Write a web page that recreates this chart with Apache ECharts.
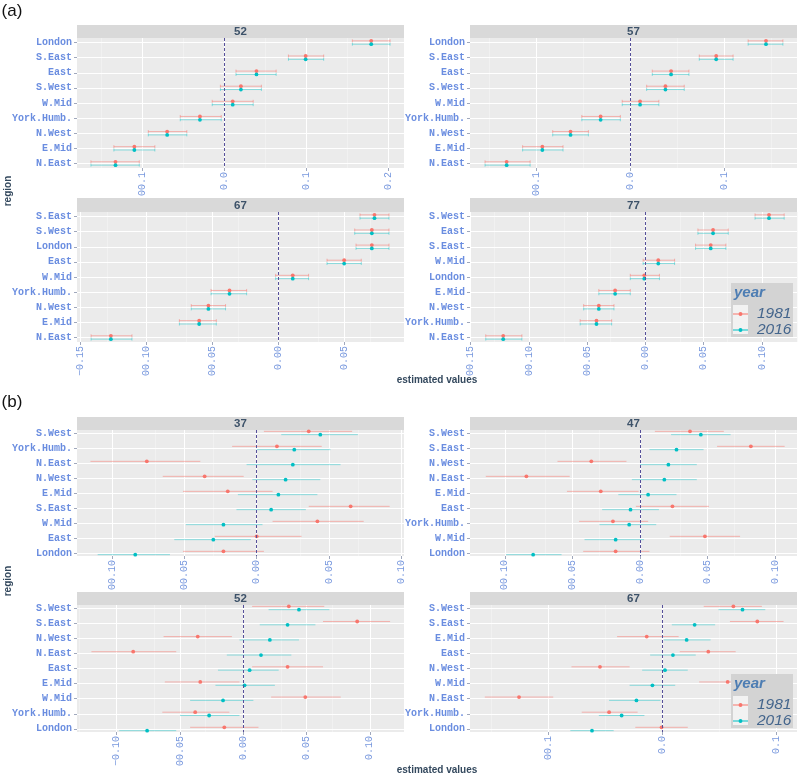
<!DOCTYPE html>
<html><head><meta charset="utf-8">
<script src="https://cdn.jsdelivr.net/npm/echarts@6/dist/echarts.min.js"></script>
<style>html,body{margin:0;padding:0;background:#fff}#c{width:800px;height:775px}</style>
</head><body><div id="c"></div>
<script>
// ---------------- DATA ----------------
const years = ['1981', '2016'];

// (a) facet 52
const a52_regions = ['London','S.East','East','S.West','W.Mid','York.Humb.','N.West','E.Mid','N.East'];
const a52_est_1981 = [0.179,0.099,0.039,0.020,0.010,-0.030,-0.070,-0.110,-0.133];
const a52_lo_1981  = [0.156,0.078,0.014,-0.005,-0.015,-0.054,-0.093,-0.135,-0.163];
const a52_hi_1981  = [0.202,0.121,0.063,0.045,0.035,-0.004,-0.046,-0.085,-0.104];
const a52_est_2016 = [0.179,0.099,0.039,0.020,0.010,-0.030,-0.070,-0.110,-0.133];
const a52_lo_2016  = [0.156,0.078,0.014,-0.005,-0.015,-0.054,-0.093,-0.135,-0.163];
const a52_hi_2016  = [0.202,0.121,0.063,0.045,0.035,-0.004,-0.046,-0.085,-0.104];
const a52_ticks = [-0.1, 0, 0.1, 0.2];
const a52_tickLabels = ['00.1','0.0','0.1','0.2'];

// (a) facet 57
const a57_regions = ['London','S.East','East','S.West','W.Mid','York.Humb.','N.West','E.Mid','N.East'];
const a57_est_1981 = [0.144,0.091,0.043,0.037,0.010,-0.032,-0.064,-0.094,-0.132];
const a57_lo_1981  = [0.125,0.073,0.023,0.017,-0.009,-0.052,-0.083,-0.115,-0.155];
const a57_hi_1981  = [0.162,0.109,0.062,0.057,0.030,-0.011,-0.045,-0.072,-0.107];
const a57_est_2016 = [0.144,0.091,0.043,0.037,0.010,-0.032,-0.064,-0.094,-0.132];
const a57_lo_2016  = [0.125,0.073,0.023,0.017,-0.009,-0.052,-0.083,-0.115,-0.155];
const a57_hi_2016  = [0.162,0.109,0.062,0.057,0.030,-0.011,-0.045,-0.072,-0.107];
const a57_ticks = [-0.1, 0, 0.1];
const a57_tickLabels = ['00.1','0.0','0.1'];

// (a) facet 67
const a67_regions = ['S.East','S.West','London','East','W.Mid','York.Humb.','N.West','E.Mid','N.East'];
const a67_est_1981 = [0.073,0.071,0.071,0.050,0.011,-0.037,-0.053,-0.060,-0.127];
const a67_lo_1981  = [0.062,0.058,0.059,0.037,-0.002,-0.051,-0.066,-0.075,-0.142];
const a67_hi_1981  = [0.084,0.084,0.084,0.063,0.023,-0.024,-0.040,-0.047,-0.111];
const a67_est_2016 = [0.073,0.071,0.071,0.050,0.011,-0.037,-0.053,-0.060,-0.127];
const a67_lo_2016  = [0.062,0.058,0.059,0.037,-0.002,-0.051,-0.066,-0.075,-0.142];
const a67_hi_2016  = [0.084,0.084,0.084,0.063,0.023,-0.024,-0.040,-0.047,-0.111];
const a67_ticks = [-0.15,-0.10,-0.05,0,0.05];
const a67_tickLabels = ['\u22120.15','00.10','00.05','0.00','0.05'];

// (a) facet 77
const a77_regions = ['S.West','East','S.East','W.Mid','London','E.Mid','N.West','York.Humb.','N.East'];
const a77_est_1981 = [0.106,0.058,0.056,0.011,-0.001,-0.026,-0.040,-0.042,-0.122];
const a77_lo_1981  = [0.094,0.045,0.043,-0.002,-0.013,-0.040,-0.053,-0.056,-0.137];
const a77_hi_1981  = [0.119,0.071,0.069,0.025,0.012,-0.013,-0.027,-0.029,-0.106];
const a77_est_2016 = [0.106,0.058,0.056,0.011,-0.001,-0.026,-0.040,-0.042,-0.122];
const a77_lo_2016  = [0.094,0.045,0.043,-0.002,-0.013,-0.040,-0.053,-0.056,-0.137];
const a77_hi_2016  = [0.119,0.071,0.069,0.025,0.012,-0.013,-0.027,-0.029,-0.106];
const a77_ticks = [-0.15,-0.10,-0.05,0,0.05,0.10];
const a77_tickLabels = ['00.15','00.10','00.05','0.00','0.05','0.10'];

// (b) facet 37
const b37_regions = ['S.West','York.Humb.','N.East','N.West','E.Mid','S.East','W.Mid','East','London'];
const b37_est_1981 = [0.036,0.014,-0.076,-0.036,-0.020,0.065,0.042,0.000,-0.023];
const b37_lo_1981  = [0.005,-0.017,-0.115,-0.065,-0.051,0.036,0.011,-0.029,-0.051];
const b37_hi_1981  = [0.066,0.045,-0.039,-0.009,0.011,0.092,0.074,0.031,0.005];
const b37_est_2016 = [0.044,0.026,0.025,0.020,0.015,0.010,-0.023,-0.030,-0.084];
const b37_lo_2016  = [0.017,0.000,-0.007,-0.003,-0.013,-0.014,-0.049,-0.057,-0.110];
const b37_hi_2016  = [0.070,0.051,0.058,0.044,0.042,0.034,0.004,-0.004,-0.060];
const b37_ticks = [-0.10,-0.05,0,0.05,0.10];
const b37_tickLabels = ['00.10','00.05','0.00','0.05','0.10'];

// (b) facet 47
const b47_regions = ['S.West','S.East','N.West','N.East','E.Mid','East','York.Humb.','W.Mid','London'];
const b47_est_1981 = [0.037,0.082,-0.036,-0.084,-0.029,0.024,-0.020,0.048,-0.018];
const b47_lo_1981  = [0.011,0.057,-0.061,-0.114,-0.054,-0.003,-0.045,0.022,-0.042];
const b47_hi_1981  = [0.062,0.107,-0.010,-0.052,-0.001,0.051,0.006,0.074,0.007];
const b47_est_2016 = [0.045,0.027,0.021,0.018,0.006,-0.007,-0.008,-0.018,-0.079];
const b47_lo_2016  = [0.023,0.007,0.000,-0.006,-0.016,-0.028,-0.030,-0.041,-0.099];
const b47_hi_2016  = [0.067,0.047,0.042,0.042,0.027,0.014,0.012,0.003,-0.058];
const b47_ticks = [-0.10,-0.05,0,0.05,0.10];
const b47_tickLabels = ['00.10','00.05','0.00','0.05','0.10'];

// (b) facet 52
const b52_regions = ['S.West','S.East','N.West','N.East','East','E.Mid','W.Mid','York.Humb.','London'];
const b52_est_1981 = [0.036,0.090,-0.036,-0.087,0.035,-0.034,0.049,-0.038,-0.015];
const b52_lo_1981  = [0.007,0.063,-0.063,-0.120,0.007,-0.062,0.022,-0.064,-0.042];
const b52_hi_1981  = [0.064,0.116,-0.009,-0.053,0.063,-0.003,0.077,-0.011,0.012];
const b52_est_2016 = [0.044,0.035,0.021,0.014,0.005,0.001,-0.016,-0.027,-0.076];
const b52_lo_2016  = [0.020,0.013,-0.003,-0.013,-0.020,-0.022,-0.042,-0.050,-0.098];
const b52_hi_2016  = [0.068,0.057,0.044,0.038,0.028,0.025,0.008,-0.003,-0.053];
const b52_ticks = [-0.10,-0.05,0,0.05,0.10];
const b52_tickLabels = ['\u22120.10','00.05','0.00','0.05','0.10'];

// (b) facet 67
const b67_regions = ['S.West','S.East','E.Mid','East','N.West','W.Mid','N.East','York.Humb.','London'];
const b67_est_1981 = [0.062,0.083,-0.014,0.040,-0.055,0.057,-0.126,-0.047,-0.001];
const b67_lo_1981  = [0.036,0.059,-0.040,0.015,-0.080,0.032,-0.156,-0.071,-0.024];
const b67_hi_1981  = [0.087,0.106,0.014,0.064,-0.029,0.090,-0.096,-0.022,0.022];
const b67_est_2016 = [0.070,0.028,0.021,0.009,0.002,-0.009,-0.023,-0.036,-0.062];
const b67_lo_2016  = [0.049,0.008,0.001,-0.011,-0.018,-0.029,-0.047,-0.056,-0.081];
const b67_hi_2016  = [0.090,0.046,0.042,0.029,0.022,0.011,-0.002,-0.016,-0.043];
const b67_ticks = [-0.1,0,0.1];
const b67_tickLabels = ['00.1','0.0','0.1'];

// ---------------- LAYOUT ----------------
const facets = [
  {strip:'52', reg:a52_regions, d:[[a52_est_1981,a52_lo_1981,a52_hi_1981],[a52_est_2016,a52_lo_2016,a52_hi_2016]], ticks:a52_ticks, tl:a52_tickLabels, xr:[-0.180,0.219], yr:[-0.3,8.3], cap:1.5, box:[77,38,327,130], sh:13},
  {strip:'57', reg:a57_regions, d:[[a57_est_1981,a57_lo_1981,a57_hi_1981],[a57_est_2016,a57_lo_2016,a57_hi_2016]], ticks:a57_ticks, tl:a57_tickLabels, xr:[-0.171,0.177], yr:[-0.3,8.3], cap:1.5, box:[470,38,327,130], sh:13},
  {strip:'67', reg:a67_regions, d:[[a67_est_1981,a67_lo_1981,a67_hi_1981],[a67_est_2016,a67_lo_2016,a67_hi_2016]], ticks:a67_ticks, tl:a67_tickLabels, xr:[-0.1527,0.0954], yr:[-0.3,8.3], cap:1.5, box:[77,212,327,130], sh:14},
  {strip:'77', reg:a77_regions, d:[[a77_est_1981,a77_lo_1981,a77_hi_1981],[a77_est_2016,a77_lo_2016,a77_hi_2016]], ticks:a77_ticks, tl:a77_tickLabels, xr:[-0.1505,0.130], yr:[-0.3,8.3], cap:1.5, box:[470,212,327,130], sh:14},
  {strip:'37', reg:b37_regions, d:[[b37_est_1981,b37_lo_1981,b37_hi_1981],[b37_est_2016,b37_lo_2016,b37_hi_2016]], ticks:b37_ticks, tl:b37_tickLabels, xr:[-0.1243,0.1019], yr:[-0.2,8.2], cap:0, box:[77,430,327,126], sh:13},
  {strip:'47', reg:b47_regions, d:[[b47_est_1981,b47_lo_1981,b47_hi_1981],[b47_est_2016,b47_lo_2016,b47_hi_2016]], ticks:b47_ticks, tl:b47_tickLabels, xr:[-0.1257,0.1161], yr:[-0.2,8.2], cap:0, box:[470,430,327,126], sh:13},
  {strip:'52', reg:b52_regions, d:[[b52_est_1981,b52_lo_1981,b52_hi_1981],[b52_est_2016,b52_lo_2016,b52_hi_2016]], ticks:b52_ticks, tl:b52_tickLabels, xr:[-0.1314,0.127], yr:[-0.2,8.2], cap:0, box:[77,605,327,127], sh:13},
  {strip:'67', reg:b67_regions, d:[[b67_est_1981,b67_lo_1981,b67_hi_1981],[b67_est_2016,b67_lo_2016,b67_hi_2016]], ticks:b67_ticks, tl:b67_tickLabels, xr:[-0.169,0.1178], yr:[-0.2,8.2], cap:0, box:[470,605,327,127], sh:13}
];

const COL = ['#F8766D', '#00BFC4'];
const BAR = ['rgba(248,118,109,0.5)', 'rgba(0,191,196,0.42)'];
const DODGE = [-0.11, 0.11];
const LABEL_BLUE = '#6a8de0';
const TICK_BLUE = '#7898de';
const TITLE_DARK = '#34495e';

function minorOf(ticks, xr) {
  const step = ticks[1] - ticks[0];
  const out = [];
  for (let k = -1; k < ticks.length; k++) {
    const v = (k < 0 ? ticks[0] - step : ticks[k]) + step / 2;
    if (v > xr[0] && v < xr[1]) out.push(+v.toFixed(6));
  }
  return out;
}

function errRender(color, cap) {
  return function (params, api) {
    const y = api.value(2);
    const p1 = api.coord([api.value(0), y]);
    const p2 = api.coord([api.value(1), y]);
    const st = {stroke: color, lineWidth: 1};
    const ch = [{type: 'line', shape: {x1: p1[0], y1: p1[1], x2: p2[0], y2: p2[1]}, style: st}];
    if (cap > 0) {
      ch.push({type: 'line', shape: {x1: p1[0], y1: p1[1] - cap, x2: p1[0], y2: p1[1] + cap}, style: st});
      ch.push({type: 'line', shape: {x1: p2[0], y1: p2[1] - cap, x2: p2[0], y2: p2[1] + cap}, style: st});
    }
    return {type: 'group', children: ch};
  };
}

const grid = [], xAxis = [], yAxis = [], series = [], graphic = [];
const idx9 = [0,1,2,3,4,5,6,7,8];
const noEmph = {disabled: true};

facets.forEach((f, i) => {
  const [L, T, W, H] = f.box;
  grid.push({left: L, top: T, width: W, height: H, show: true, backgroundColor: '#ebebeb', borderWidth: 0, z: 0});
  xAxis.push({
    gridIndex: i, type: 'value', min: f.xr[0], max: f.xr[1],
    axisLine: {show: false, onZero: false},
    axisTick: {show: true, length: 3, customValues: f.ticks, lineStyle: {color: '#a0a8bc'}},
    axisLabel: {customValues: f.ticks, rotate: 90, margin: 4, fontFamily: 'Liberation Mono', fontSize: 10, color: TICK_BLUE,
      formatter: (v) => { const j = f.ticks.findIndex(t => Math.abs(t - v) < 1e-9); return j >= 0 ? f.tl[j] : ''; }},
    splitLine: {show: false}
  });
  yAxis.push({
    gridIndex: i, type: 'value', inverse: true, min: f.yr[0], max: f.yr[1],
    axisLine: {show: false, onZero: false},
    axisTick: {show: true, length: 3, customValues: idx9, lineStyle: {color: '#a0a8bc'}},
    axisLabel: {customValues: idx9, margin: 5, fontFamily: 'Liberation Mono', fontWeight: 'bold', fontSize: 10, color: LABEL_BLUE,
      formatter: (v) => f.reg[Math.round(v)] || ''},
    splitLine: {show: false}
  });
  // panel grid lines (major/minor x, major y) as marker lines on a helper series
  const majorStyle = {color: '#ffffff', width: 1, type: 'solid'};
  const minorStyle = {color: '#f5f5f5', width: 0.6, type: 'solid'};
  const gl = []
    .concat(minorOf(f.ticks, f.xr).map(v => ({xAxis: v, lineStyle: minorStyle})))
    .concat(f.ticks.map(v => ({xAxis: v, lineStyle: majorStyle})))
    .concat(idx9.map(v => ({yAxis: v, lineStyle: majorStyle})));
  series.push({
    name: 'grid', type: 'line', xAxisIndex: i, yAxisIndex: i, data: [], silent: true, z: 1,
    markLine: {silent: true, symbol: 'none', z: 1, animation: false, label: {show: false}, emphasis: noEmph, data: gl}
  });
  // error bars
  years.forEach((yr, s) => {
    const [est, lo, hi] = f.d[s];
    series.push({
      name: yr, type: 'custom', xAxisIndex: i, yAxisIndex: i, z: 2, silent: true,
      itemStyle: {color: COL[s]},
      renderItem: errRender(BAR[s], f.cap),
      encode: {x: [0, 1], y: 2},
      data: lo.map((v, k) => [v, hi[k], k + DODGE[s]])
    });
  });
  // points
  years.forEach((yr, s) => {
    const [est] = f.d[s];
    const ser = {
      name: yr, type: 'scatter', xAxisIndex: i, yAxisIndex: i, z: 3,
      symbol: 'circle', symbolSize: 3.8, itemStyle: {color: COL[s], opacity: 1},
      data: est.map((v, k) => [v, k + DODGE[s]]), silent: true
    };
    if (s === 1) {
      ser.markLine = {silent: true, symbol: 'none', z: 4, animation: false, label: {show: false},
        lineStyle: {color: '#56509a', width: 1, type: [3, 2]}, emphasis: noEmph,
        data: [{xAxis: 0}]};
    }
    series.push(ser);
  });
  // strip
  graphic.push({type: 'rect', shape: {x: L, y: T - f.sh, width: W, height: f.sh}, style: {fill: '#d9d9d9'}, silent: true});
  graphic.push({type: 'text', x: L + W / 2, y: T - f.sh / 2 + 0.5, silent: true,
    style: {text: f.strip, fill: '#3d5269', font: 'bold 11.5px "Liberation Sans", Arial, sans-serif', align: 'center', verticalAlign: 'middle'}});
});

// panel labels / axis titles
const txt = (x, y, s, font, fill, extra) => Object.assign({type: 'text', x, y, silent: true,
  style: {text: s, font, fill, align: 'center', verticalAlign: 'middle'}}, extra || {});
graphic.push(txt(12, 11, '(a)', '17px "Liberation Sans", Arial, sans-serif', '#111'));
graphic.push(txt(12, 402, '(b)', '17px "Liberation Sans", Arial, sans-serif', '#111'));
graphic.push(txt(437, 380, 'estimated values', 'bold 10px "Liberation Sans", Arial, sans-serif', TITLE_DARK));
graphic.push(txt(437, 770, 'estimated values', 'bold 10px "Liberation Sans", Arial, sans-serif', TITLE_DARK));
graphic.push(txt(8, 191, 'region', 'bold 10px "Liberation Sans", Arial, sans-serif', TITLE_DARK, {rotation: Math.PI / 2}));
graphic.push(txt(8, 581, 'region', 'bold 10px "Liberation Sans", Arial, sans-serif', TITLE_DARK, {rotation: Math.PI / 2}));

// legend boxes
const legendTops = [283, 674];
legendTops.forEach(t => {
  graphic.push({type: 'rect', z: 100, shape: {x: 731, y: t, width: 62, height: 54}, style: {fill: '#d3d3d3'}, silent: true});
  graphic.push({type: 'rect', z: 101, shape: {x: 733, y: t + 22, width: 15, height: 29}, style: {fill: '#f2f2f2'}, silent: true});
  graphic.push({type: 'text', z: 102, x: 734, y: t + 10, silent: true,
    style: {text: 'year', font: 'italic bold 15px "Liberation Sans", Arial, sans-serif', fill: '#4d7db3', align: 'left', verticalAlign: 'middle'}});
});

const keyIcon = 'path://M0,0L0.01,0L0,0.01Z M15,14L14.99,14L15,13.99Z M0,6.5L15,6.5L15,7.5L0,7.5Z M9.5,7A2,2,0,1,1,5.5,7A2,2,0,1,1,9.5,7Z';
const legend = legendTops.map(t => ({
  left: 733, top: t + 23, orient: 'vertical', itemWidth: 15, itemHeight: 14, itemGap: 0, z: 110,
  selectedMode: false, padding: 0,
  data: years.map(y => ({name: y, icon: keyIcon})),
  textStyle: {fontSize: 15.5, fontStyle: 'italic', fontFamily: '"Liberation Sans", Arial, sans-serif', color: '#44658c', lineHeight: 14, padding: [0, 0, 0, 4]}
}));

const chart = echarts.init(document.getElementById('c'), null, {renderer: 'canvas'});
chart.setOption({animation: false, grid, xAxis, yAxis, series, graphic, legend});
</script></body></html>
